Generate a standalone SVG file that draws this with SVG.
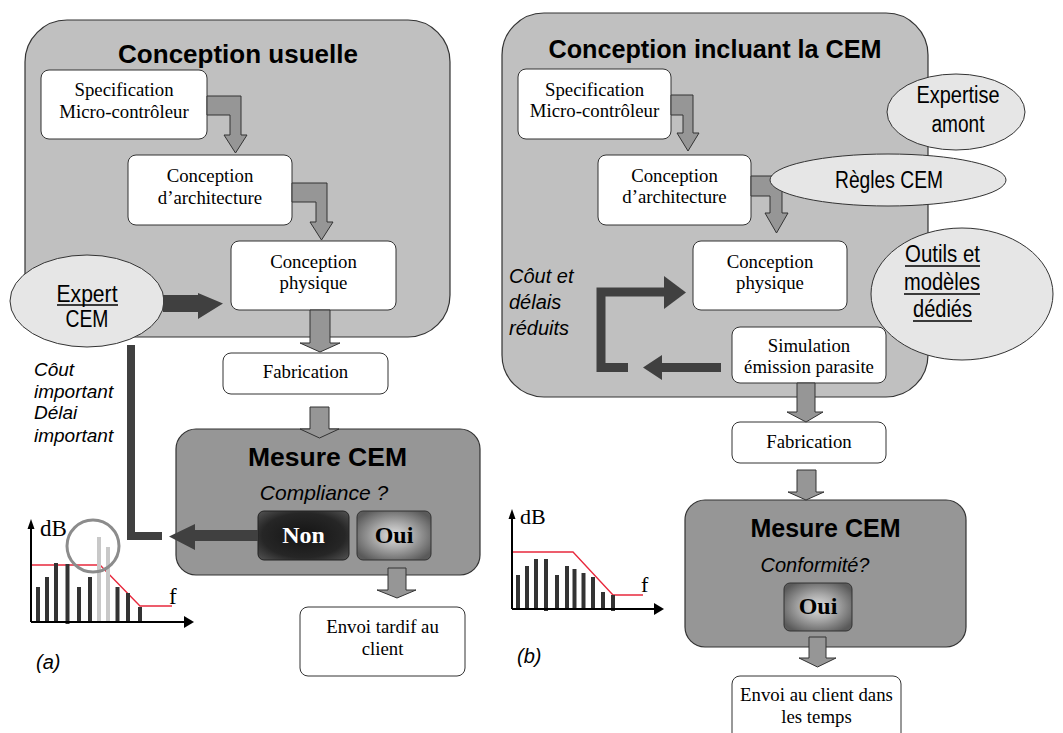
<svg xmlns="http://www.w3.org/2000/svg" width="1063" height="733" viewBox="0 0 1063 733">
<style>
.panel{fill:#c0c0c0;stroke:#333;stroke-width:1.2}
.box{fill:#fff;stroke:#333;stroke-width:1}
.st{font-family:"Liberation Serif",serif;font-size:18.8px;fill:#000;text-anchor:middle}
.title{font-family:"Liberation Sans",Arial,sans-serif;font-weight:bold;fill:#000;text-anchor:middle}
.it{font-family:"Liberation Sans",Arial,sans-serif;font-style:italic;fill:#000}
.cond{font-family:"Liberation Sans",Arial,sans-serif;font-size:23.5px;fill:#000;text-anchor:middle}
.ell{fill:#e6e6e6;stroke:#333;stroke-width:1}
.garrow{fill:#969696;stroke:#333;stroke-width:1}
.darrow{fill:#404040;stroke:none}
.dline{fill:none;stroke:#404040}
.mesure{fill:#969696;stroke:#333;stroke-width:1.2}
.bar{stroke:#333;stroke-width:4}
.lbar{stroke:#c8c8c8;stroke-width:4}
.lim{fill:none;stroke:#e8283c;stroke-width:1.3}
.axis{stroke:#000;stroke-width:2}
.btn{font-family:"Liberation Serif",serif;font-size:24px;font-weight:bold;text-anchor:middle}
</style>
<defs>
<radialGradient id="gNon" cx="50%" cy="50%" r="65%">
<stop offset="0" stop-color="#141414"/><stop offset="0.7" stop-color="#262626"/><stop offset="1" stop-color="#4a4a4a"/>
</radialGradient>
<radialGradient id="gOui" cx="50%" cy="50%" r="60%">
<stop offset="0" stop-color="#e0e0e0"/><stop offset="0.45" stop-color="#a8a8a8"/><stop offset="1" stop-color="#5a5a5a"/>
</radialGradient>
</defs>

<!-- ===== Panel (a) ===== -->
<g id="panel-a">
<rect class="panel" x="25" y="20" width="425" height="317" rx="42"/>
<text class="title" x="238" y="63" font-size="26">Conception usuelle</text>
</g>
<g id="a-spec"><rect class="box" x="41" y="70" width="166" height="69" rx="8"/>
<text class="st" x="124" y="96">Specification</text><text class="st" x="124" y="118">Micro-contrôleur</text></g>
<g id="a-arch"><rect class="box" x="128" y="155" width="164" height="70" rx="8"/>
<text class="st" x="210" y="182">Conception</text><text class="st" x="210" y="204">d’architecture</text></g>
<g id="a-phys"><rect class="box" x="231" y="241" width="165" height="69" rx="8"/>
<text class="st" x="313.5" y="268">Conception</text><text class="st" x="313.5" y="289">physique</text></g>
<g id="a-fab"><rect class="box" x="223" y="353" width="165" height="41" rx="8"/>
<text class="st" x="305.5" y="378">Fabrication</text></g>
<g id="a-mesure"><rect class="mesure" x="176" y="429" width="304" height="146" rx="20"/>
<text class="title" x="327.5" y="466" font-size="26.5">Mesure CEM</text>
<text class="it" x="324" y="500" font-size="21" text-anchor="middle">Compliance ?</text></g>
<g id="a-non"><rect x="258" y="511" width="91" height="49" rx="6" fill="url(#gNon)" stroke="#222" stroke-width="1"/>
<text class="btn" x="303.5" y="543" fill="#fff">Non</text></g>
<g id="a-oui"><rect x="357" y="511" width="74" height="49" rx="6" fill="url(#gOui)" stroke="#333" stroke-width="1"/>
<text class="btn" x="394" y="543" fill="#000">Oui</text></g>
<g id="a-envoi"><rect class="box" x="300" y="607" width="165" height="69" rx="8"/>
<text class="st" x="382.5" y="633">Envoi tardif au</text><text class="st" x="382.5" y="655">client</text></g>

<g id="a-notes">
<text class="it" x="34" y="376" font-size="19">Côut</text>
<text class="it" x="34" y="398" font-size="19">important</text>
<text class="it" x="34" y="419" font-size="19">Délai</text>
<text class="it" x="34" y="442" font-size="19">important</text>
<text class="it" x="36" y="669" font-size="20">(a)</text>
</g>

<g id="a-graph">
<polyline class="lim" points="31,565 100,565 140,606 172,606"/>
<line class="bar" x1="38" y1="587" x2="38" y2="622"/>
<line class="bar" x1="47" y1="577" x2="47" y2="622"/>
<line class="bar" x1="56" y1="563" x2="56" y2="622"/>
<line class="bar" x1="67.5" y1="564" x2="67.5" y2="624"/>
<line class="bar" x1="79" y1="587" x2="79" y2="622"/>
<line class="bar" x1="90" y1="577" x2="90" y2="622"/>
<line class="lbar" x1="99" y1="537" x2="99" y2="623"/>
<line class="lbar" x1="108" y1="547" x2="108" y2="623"/>
<line class="bar" x1="117.5" y1="587" x2="117.5" y2="622"/>
<line class="bar" x1="128" y1="593" x2="128" y2="622"/>
<line class="bar" x1="140" y1="607" x2="140" y2="622"/>
<circle cx="93" cy="546" r="26" fill="none" stroke="#8c8c8c" stroke-width="3"/>
<line class="axis" x1="31" y1="622" x2="186" y2="622"/>
<polygon points="184,616 194,622 184,628" fill="#000"/>
<line class="axis" x1="31" y1="622" x2="31" y2="528"/>
<polygon points="27.5,529 31,519 34.5,529" fill="#000"/>
<text x="40" y="536" font-family="Liberation Serif,serif" font-size="23">dB</text>
<text x="169" y="604" font-family="Liberation Serif,serif" font-size="23">f</text>
</g>

<g id="a-expert">
<ellipse class="ell" cx="87" cy="301" rx="77" ry="46"/>
<text class="cond" x="87" y="302" font-size="25" textLength="61" lengthAdjust="spacingAndGlyphs">Expert</text>
<line x1="57" y1="305" x2="118" y2="305" stroke="#000" stroke-width="1.5"/>
<text class="cond" x="87" y="327" font-size="25" textLength="43" lengthAdjust="spacingAndGlyphs">CEM</text>
</g>

<!-- ===== Panel (b) ===== -->
<g id="panel-b">
<rect class="panel" x="502" y="13" width="426" height="384" rx="42"/>
<text class="title" x="715" y="58" font-size="25.2">Conception incluant la CEM</text>
</g>
<g id="b-spec"><rect class="box" x="518" y="69" width="153" height="70" rx="8"/>
<text class="st" x="594.5" y="96">Specification</text><text class="st" x="594.5" y="117">Micro-contrôleur</text></g>
<g id="b-arch"><rect class="box" x="598" y="155" width="153" height="70" rx="8"/>
<text class="st" x="674.5" y="182">Conception</text><text class="st" x="674.5" y="203">d’architecture</text></g>
<g id="b-phys"><rect class="box" x="693" y="241" width="154" height="69" rx="8"/>
<text class="st" x="770" y="268">Conception</text><text class="st" x="770" y="289">physique</text></g>
<g id="b-sim"><rect class="box" x="732" y="327" width="154" height="56" rx="8"/>
<text class="st" x="809" y="352">Simulation</text><text class="st" x="809" y="373">émission parasite</text></g>
<g id="b-fab"><rect class="box" x="732" y="422" width="154" height="41" rx="8"/>
<text class="st" x="809" y="448">Fabrication</text></g>
<g id="b-mesure"><rect class="mesure" x="685" y="500" width="281" height="147" rx="20"/>
<text class="title" x="825.5" y="537" font-size="25">Mesure CEM</text>
<text class="it" x="815" y="572" font-size="20" text-anchor="middle">Conformité?</text></g>
<g id="b-oui"><rect x="784" y="583" width="68" height="48" rx="6" fill="url(#gOui)" stroke="#333" stroke-width="1"/>
<text class="btn" x="818" y="614" fill="#000">Oui</text></g>
<g id="b-envoi"><rect class="box" x="732" y="676" width="169" height="70" rx="8"/>
<text class="st" x="816.5" y="701">Envoi au client dans</text><text class="st" x="816.5" y="723">les temps</text></g>

<g id="b-notes">
<text class="it" x="509" y="283" font-size="20">Côut et</text>
<text class="it" x="509" y="309" font-size="20">délais</text>
<text class="it" x="509" y="335" font-size="20">réduits</text>
<text class="it" x="517" y="663" font-size="20">(b)</text>
</g>

<g id="b-graph">
<polyline class="lim" points="512,552 573,552 613,595 643,595"/>
<line class="bar" x1="518" y1="575" x2="518" y2="609"/>
<line class="bar" x1="527" y1="566" x2="527" y2="609"/>
<line class="bar" x1="536" y1="559" x2="536" y2="609"/>
<line class="bar" x1="546" y1="559" x2="546" y2="611"/>
<line class="bar" x1="557" y1="575" x2="557" y2="609"/>
<line class="bar" x1="567" y1="566" x2="567" y2="609"/>
<line class="bar" x1="574.5" y1="569" x2="574.5" y2="609"/>
<line class="bar" x1="583.5" y1="573" x2="583.5" y2="609"/>
<line class="bar" x1="593" y1="577" x2="593" y2="609"/>
<line class="bar" x1="603" y1="592" x2="603" y2="609"/>
<line class="bar" x1="613" y1="595" x2="613" y2="611"/>
<line class="axis" x1="512" y1="609" x2="656" y2="609"/>
<polygon points="654,603 664,609 654,615" fill="#000"/>
<line class="axis" x1="512" y1="609" x2="512" y2="518"/>
<polygon points="508.5,519 512,509 515.5,519" fill="#000"/>
<text x="520" y="524" font-family="Liberation Serif,serif" font-size="22">dB</text>
<text x="641" y="592" font-family="Liberation Serif,serif" font-size="22">f</text>
</g>

<!-- ===== Connectors ===== -->
<g id="connectors">
<polygon class="garrow" points="207,96 241,96 241,135 247,135 235.5,153 224,135 230,135 230,115 207,115"/>
<polygon class="garrow" points="292,183 327,183 327,222 333,222 321.5,240 310,222 316,222 316,202 292,202"/>
<polygon class="garrow" points="310,310 330,310 330,343 340,343 320,352 300,343 310,343"/>
<polygon class="garrow" points="310,407 329,407 329,429 339,429 319.5,438 300,429 310,429"/>
<polygon class="garrow" points="388,568 406,568 406,590 416,590 397,598 377,590 388,590"/>
<polygon class="darrow" points="163,295 198,295 198,293 223,303.5 198,319 198,312 163,312"/>
<polyline class="dline" points="131,345 131,536 162,536" stroke-width="8"/>
<polygon class="darrow" points="258,530 195,530 195,524 169,536.5 195,550 195,541 258,541"/>

<polygon class="garrow" points="671,95 693,95 693,133 699,133 688,151 677,133 683,133 683,115 671,115"/>
<polygon class="garrow" points="751,176 782,176 782,213 788,213 776.5,233 765,213 770,213 770,196 751,196"/>
<polygon class="garrow" points="797,383 815,383 815,412 823,412 806,422 787,412 797,412"/>
<polygon class="garrow" points="797,470 816,470 816,492 824,492 806,500 788,492 797,492"/>
<polygon class="garrow" points="809,637 826,637 826,658 836,658 817.5,667 799,658 809,658"/>
<polyline class="dline" points="628,367.5 601,367.5 601,292 665,292" stroke-width="9"/>
<polygon class="darrow" points="664,276 686,292.5 664,309"/>
<polygon class="darrow" points="721,363 662,363 662,355 643,367.5 662,380 662,372 721,372"/>
</g>

<!-- ===== Ellipses (b) ===== -->
<g id="b-expertise">
<ellipse class="ell" cx="956" cy="112" rx="69" ry="38"/>
<text class="cond" x="958" y="103" textLength="83" lengthAdjust="spacingAndGlyphs">Expertise</text>
<text class="cond" x="958" y="132" textLength="53" lengthAdjust="spacingAndGlyphs">amont</text>
</g>
<g id="b-regles">
<ellipse class="ell" cx="888" cy="180" rx="118" ry="26"/>
<text class="cond" x="889" y="188" textLength="108" lengthAdjust="spacingAndGlyphs">Règles CEM</text>
</g>
<g id="b-outils">
<ellipse class="ell" cx="962" cy="294" rx="91" ry="66"/>
<text class="cond" x="942.5" y="262" textLength="75" lengthAdjust="spacingAndGlyphs">Outils et</text>
<line x1="905" y1="266" x2="980" y2="266" stroke="#000" stroke-width="1.5"/>
<text class="cond" x="942" y="290" textLength="76" lengthAdjust="spacingAndGlyphs">modèles</text>
<line x1="904" y1="294" x2="980" y2="294" stroke="#000" stroke-width="1.5"/>
<text class="cond" x="942.5" y="317" textLength="59" lengthAdjust="spacingAndGlyphs">dédiés</text>
<line x1="913" y1="321" x2="972" y2="321" stroke="#000" stroke-width="1.5"/>
</g>
</svg>
